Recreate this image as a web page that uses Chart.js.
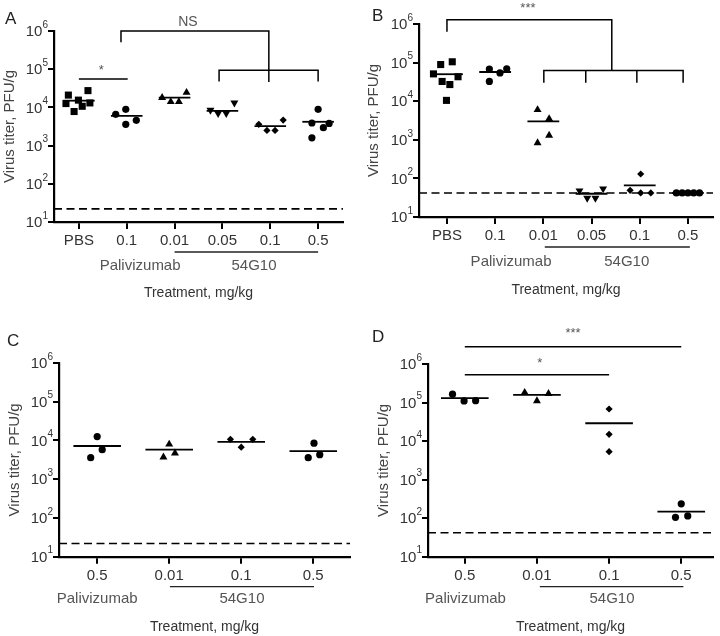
<!DOCTYPE html>
<html>
<head>
<meta charset="utf-8">
<script src="https://cdn.jsdelivr.net/npm/chart.js@4.4.0/dist/chart.umd.min.js"></script>
<style>
  body { margin: 0; background: #fff; width: 720px; height: 636px; position: relative; overflow: hidden; }
  canvas { position: absolute; }
</style>
</head>
<body>
<canvas id="cA" width="360" height="318" style="left:0;top:0"></canvas>
<canvas id="cB" width="360" height="318" style="left:360px;top:0"></canvas>
<canvas id="cC" width="360" height="318" style="left:0;top:318px"></canvas>
<canvas id="cD" width="360" height="318" style="left:360px;top:318px"></canvas>
<script>
// virus titers (PFU/g), one inner list per treatment group
const catsA = ['PBS', '0.1', '0.01', '0.05', '0.1', '0.5'];
const valsA = [
  [21000, 27500, 15500, 12600, 13100, 10700, 7800],
  [6600, 8900, 3600, 4600],
  [18000, 14000, 14000, 24500],
  [8500, 7000, 7000, 13100],
  [3600, 2500, 2500, 4650],
  [8900, 3900, 2950, 3800, 1600]
];
const jitA = [
  [-0.22, 0.19, -0.01, -0.27, 0.23, 0.07, -0.10],
  [-0.23, -0.02, -0.02, 0.20],
  [-0.26, -0.08, 0.09, 0.25],
  [-0.25, -0.09, 0.08, 0.25],
  [-0.24, -0.07, 0.10, 0.27],
  [0, -0.13, 0.11, 0.23, -0.13]
];
const meanA = [15000, 6000, 18000, 8100, 3250, 4200];
const limitA = 22;

const catsB = ['PBS', '0.1', '0.01', '0.05', '0.1', '0.5'];
const valsB = [
  [89000, 105000, 51000, 32500, 27000, 43000, 10500],
  [68000, 32500, 54000, 69000],
  [6000, 3500, 1300, 830],
  [48, 31, 31, 54],
  [49, 130, 42, 42],
  [42, 42, 42, 42, 42]
];
const jitB = [
  [-0.13, 0.11, -0.28, -0.10, 0.06, 0.23, -0.01],
  [-0.12, -0.12, 0.10, 0.24],
  [-0.12, 0.12, 0.12, -0.12],
  [-0.25, -0.09, 0.08, 0.24],
  [-0.20, 0.02, 0.02, 0.23],
  [-0.24, -0.12, 0, 0.12, 0.24]
];
const meanB = [50000, 57000, 3000, 40, 66, 42];
const limitB = 42;

const catsC = ['0.5', '0.01', '0.1', '0.5'];
const valsC = [[12600, 5800, 3600], [8000, 4700, 3700], [10700, 10700, 6700], [8500, 4300, 3600]];
const jitC = [[0, 0.07, -0.09], [0, 0.08, -0.08], [-0.15, 0.16, 0], [0.01, 0.09, -0.07]];
const meanC = [7200, 5800, 9200, 5300];
const limitC = 22;

const catsD = ['0.5', '0.01', '0.1', '0.5'];
const valsD = [[165000, 110000, 112000], [182000, 110000, 170000], [68000, 15000, 5300], [235, 105, 114]];
const jitD = [[-0.17, -0.01, 0.15], [-0.17, 0, 0.16], [0, 0, 0], [0, -0.08, 0.09]];
const meanD = [130000, 158000, 29000, 148];
const limitD = 42;

const yTicks = [10, 100, 1000, 10000, 100000, 1000000];

const FONT = '"Liberation Sans", Arial, Helvetica, sans-serif';
Chart.defaults.font.family = FONT;
const RAD = { rect: 5, circle: 3.6, triangle: 4.6, invTriangle: 4.6, rectRot: 3.6 };

function lineDs(pts, w, dash) {
  return {
    data: pts.map(([x, y]) => ({ x, y })),
    showLine: true, pointRadius: 0, pointHoverRadius: 0,
    borderColor: '#000', borderWidth: w, borderDash: dash || [],
    clip: false, tension: 0
  };
}

function decoPlugin(p) {
  return {
    id: 'deco',
    afterDraw(chart) {
      const ctx = chart.ctx, xs = chart.scales.x, ys = chart.scales.y, a = chart.chartArea;
      ctx.save();
      // y tick labels 10^n
      ctx.fillStyle = '#333';
      ctx.textAlign = 'right';
      ctx.textBaseline = 'middle';
      yTicks.forEach(v => {
        const y = ys.getPixelForValue(v);
        const e = String(Math.round(Math.log10(v)));
        const ex = a.left - 6;
        ctx.font = '10px ' + FONT;
        ctx.fillText(e, ex, y - 6);
        const ew = ctx.measureText(e).width;
        ctx.font = '15px ' + FONT;
        ctx.fillText('10', ex - ew, y + 1);
      });
      // antibody groups under the ticks
      ctx.strokeStyle = '#222';
      ctx.lineWidth = 1.3;
      ctx.beginPath();
      ctx.moveTo(xs.getPixelForValue(p.grpLine[0]), a.bottom + 30);
      ctx.lineTo(xs.getPixelForValue(p.grpLine[1]), a.bottom + 30);
      ctx.stroke();
      ctx.fillStyle = '#555';
      ctx.textAlign = 'center';
      ctx.font = '15px ' + FONT;
      ctx.fillText('Palivizumab', xs.getPixelForValue(p.paliX), a.bottom + p.grpY);
      ctx.fillText('54G10', xs.getPixelForValue(p.g54X), a.bottom + p.grpY);
      // significance labels
      p.texts.forEach(t => {
        const star = t[0].startsWith('*');
        ctx.font = (star ? '13px ' : '14px ') + FONT;
        ctx.fillText(t[0], xs.getPixelForValue(t[1]), ys.getPixelForValue(t[2]) + (star ? 4 : 0));
      });
      // panel letter
      ctx.fillStyle = '#222';
      ctx.textAlign = 'left';
      ctx.font = '17px ' + FONT;
      ctx.fillText(p.letter, p.letterPos[0], p.letterPos[1]);
      ctx.restore();
    }
  };
}

function makePanel(id, p) {
  const ds = [];
  p.vals.forEach((grp, i) => {
    const st = p.marks[i];
    ds.push({
      data: grp.map((v, j) => ({ x: i + p.jit[i][j], y: v })),
      pointStyle: st === 'invTriangle' ? 'triangle' : st,
      pointRotation: st === 'invTriangle' ? 180 : 0,
      pointRadius: RAD[st], pointHoverRadius: RAD[st],
      pointBackgroundColor: '#000', pointBorderColor: '#000', pointBorderWidth: 0,
      backgroundColor: '#000', borderColor: '#000',
      showLine: false, clip: false
    });
    ds.push(lineDs([[i - 0.33, p.means[i]], [i + 0.33, p.means[i]]], 1.8));
  });
  ds.push(lineDs([[p.xMin, p.limit], [p.xMax, p.limit]], 1.6, [8, 4.5]));
  p.brackets.forEach(b => ds.push(lineDs(b, 1.5)));

  new Chart(document.getElementById(id), {
    type: 'scatter',
    data: { datasets: ds },
    plugins: [decoPlugin(p)],
    options: {
      responsive: false,
      animation: false,
      layout: { padding: { left: 0, right: p.padR, top: p.padT, bottom: 0 } },
      plugins: { legend: { display: false }, tooltip: { enabled: false } },
      scales: {
        x: {
          type: 'linear', min: p.xMin, max: p.xMax,
          afterBuildTicks: s => { s.ticks = p.cats.map((c, i) => ({ value: i })); },
          afterFit: s => { s.height = p.xh; },
          ticks: {
            autoSkip: false, maxRotation: 0, minRotation: 0, padding: 3,
            color: '#333', font: { size: 15 },
            callback: (v, i) => p.cats[i]
          },
          grid: { drawOnChartArea: false, drawTicks: true, tickLength: 7, color: '#000', lineWidth: 2 },
          border: { display: true, color: '#000', width: 2.2 },
          title: { display: true, text: 'Treatment, mg/kg', color: '#333', font: { size: 14 }, padding: { top: 0, bottom: p.xtPad } }
        },
        y: {
          type: 'logarithmic', min: 10, max: 1e6,
          afterBuildTicks: s => { s.ticks = yTicks.map(v => ({ value: v })); },
          afterFit: s => { s.width = p.yw; },
          ticks: { display: false },
          grid: { drawOnChartArea: false, drawTicks: true, tickLength: 6, color: '#000', lineWidth: 2 },
          border: { display: true, color: '#000', width: 2.2 },
          title: { display: true, text: 'Virus titer, PFU/g', color: '#444', font: { size: 15 }, padding: { top: p.ytPad, bottom: 0 } }
        }
      }
    }
  });
}

makePanel('cA', {
  cats: catsA, vals: valsA, jit: jitA, means: meanA, limit: limitA,
  marks: ['rect', 'circle', 'triangle', 'invTriangle', 'rectRot', 'circle'],
  xMin: -0.52, xMax: 5.52, yw: 54, xh: 96, padT: 31, padR: 17, xtPad: 16.6, ytPad: 1,
  grpLine: [2, 5], paliX: 1.28, g54X: 3.66, grpY: 44,
  brackets: [
    [[0, 55000], [1.02, 55000]],
    [[0.88, 510000], [0.88, 1e6], [3.97, 1e6], [3.97, 46000]],
    [[2.93, 48000], [2.93, 94000], [5, 94000], [5, 48000]]
  ],
  texts: [['*', 0.47, 120000], ['NS', 2.28, 1.7e6]],
  letter: 'A', letterPos: [5, 19]
});

makePanel('cB', {
  cats: catsB, vals: valsB, jit: jitB, means: meanB, limit: limitB,
  marks: ['rect', 'circle', 'triangle', 'invTriangle', 'rectRot', 'circle'],
  xMin: -0.58, xMax: 5.52, yw: 59, xh: 101, padT: 24, padR: 7, xtPad: 19.6, ytPad: 5,
  grpLine: [2.03, 5.04], paliX: 1.33, g54X: 3.73, grpY: 45,
  brackets: [
    [[0, 630000], [0, 1.29e6], [3.42, 1.29e6], [3.42, 62000]],
    [[2.01, 30000], [2.01, 62000], [4.9, 62000], [4.9, 30000]],
    [[2.88, 62000], [2.88, 30000]],
    [[3.94, 62000], [3.94, 30000]]
  ],
  texts: [['***', 1.68, 3.2e6]],
  letter: 'B', letterPos: [12, 16]
});

makePanel('cC', {
  cats: catsC, vals: valsC, jit: jitC, means: meanC, limit: limitC,
  marks: ['circle', 'triangle', 'rectRot', 'circle'],
  xMin: -0.53, xMax: 3.51, yw: 59, xh: 79.3, padT: 45, padR: 10, xtPad: 0.6, ytPad: 6,
  grpLine: [1.01, 3.01], paliX: 0, g54X: 2.01, grpY: 42,
  brackets: [],
  texts: [],
  letter: 'C', letterPos: [7, 23]
});

makePanel('cD', {
  cats: catsD, vals: valsD, jit: jitD, means: meanD, limit: limitD,
  marks: ['circle', 'triangle', 'rectRot', 'circle'],
  xMin: -0.51, xMax: 3.44, yw: 68, xh: 79.3, padT: 46, padR: 7, xtPad: 0.6, ytPad: 15,
  grpLine: [1.04, 3.03], paliX: 0.01, g54X: 2.04, grpY: 42,
  brackets: [
    [[0, 2.8e6], [3, 2.8e6]],
    [[0, 530000], [2, 530000]]
  ],
  texts: [['***', 1.5, 7.8e6], ['*', 1.04, 1.3e6]],
  letter: 'D', letterPos: [12, 19]
});
</script>
</body>
</html>
